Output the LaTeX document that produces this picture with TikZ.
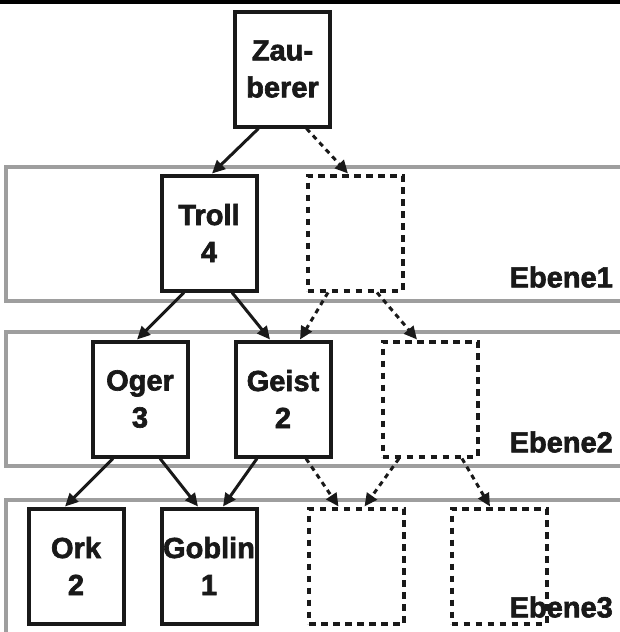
\documentclass[tikz,border=0pt]{standalone}
\usepackage{fontspec}
\setmainfont{Liberation Sans}[BoldFeatures={FakeBold=2.2}]
\usetikzlibrary{arrows.meta,calc}
\newcommand{\lblfont}{\fontsize{29}{37}\selectfont\bfseries}
\definecolor{bandgray}{RGB}{158,158,158}
\begin{document}
\begin{tikzpicture}[x=1pt,y=-1pt,
  box/.style={draw=black!90,line width=4pt,minimum width=95pt,minimum height=115pt,inner sep=0pt,align=center,font=\lblfont,text=black!90,fill=white},
  dbox/.style={box,dash pattern=on 6.5pt off 5.5pt},
  band/.style={draw=bandgray,line width=3.5pt},
  arr/.style={line width=3pt,draw=black!90,-{Triangle[length=13pt,width=12pt]}},
  darr/.style={arr,dash pattern=on 5pt off 4.5pt},
  lvl/.style={anchor=east,font=\lblfont,text=black!90,inner sep=0pt}]
\useasboundingbox (0,0) rectangle (620,632);
\clip (0,0) rectangle (620,632);
\fill[black] (0,0) rectangle (620,3.5);
% bands
\draw[band] (6,167) rectangle (650,301);
\draw[band] (6,332) rectangle (650,466);
\draw[band] (6,500) rectangle (650,700);
% boxes
\node[box] (Z) at (282.5,69) {Zau-\\berer};
\node[box] (T) at (209,233) {Troll\\4};
\node[dbox] (D1) at (355,233) {};
\node[box] (O) at (140,399) {Oger\\3};
\node[box] (G) at (283,399) {Geist\\2};
\node[dbox] (D2) at (430,399) {};
\node[box] (K) at (76,566) {Ork\\2};
\node[box] (B) at (209,566) {Goblin\\1};
\node[dbox] (D3) at (356.5,566) {};
\node[dbox] (D4) at (499,566) {};
% labels
\node[lvl] (E1) at (613,277) {Ebene1};
\node[lvl] (E2) at (613,442) {Ebene2};
\node[lvl] (E3) at (613,607) {Ebene3};
% connectors
\draw[arr]  ([xshift=-24pt]Z.south) -- ([xshift=3pt]T.north);
\draw[darr] ([xshift=24pt]Z.south) -- ([xshift=-7pt]D1.north);
\draw[arr]  ([xshift=-25pt]T.south) -- ([xshift=-3pt]O.north);
\draw[arr]  ([xshift=23pt]T.south) -- ([xshift=-13pt]G.north);
\draw[darr] ([xshift=-27pt]D1.south) -- ([xshift=17pt]G.north);
\draw[darr] ([xshift=22pt]D1.south) -- ([xshift=-13pt]D2.north);
\draw[arr]  ([xshift=-27pt]O.south) -- ([xshift=-11pt]K.north);
\draw[arr]  ([xshift=20pt]O.south) -- ([xshift=-11pt]B.north);
\draw[arr]  ([xshift=-26pt]G.south) -- ([xshift=14pt]B.north);
\draw[darr] ([xshift=23pt]G.south) -- ([xshift=-18pt]D3.north);
\draw[darr] ([xshift=-31pt]D2.south) -- ([xshift=8pt]D3.north);
\draw[darr] ([xshift=32pt]D2.south) -- ([xshift=-9pt]D4.north);
\end{tikzpicture}
\end{document}
